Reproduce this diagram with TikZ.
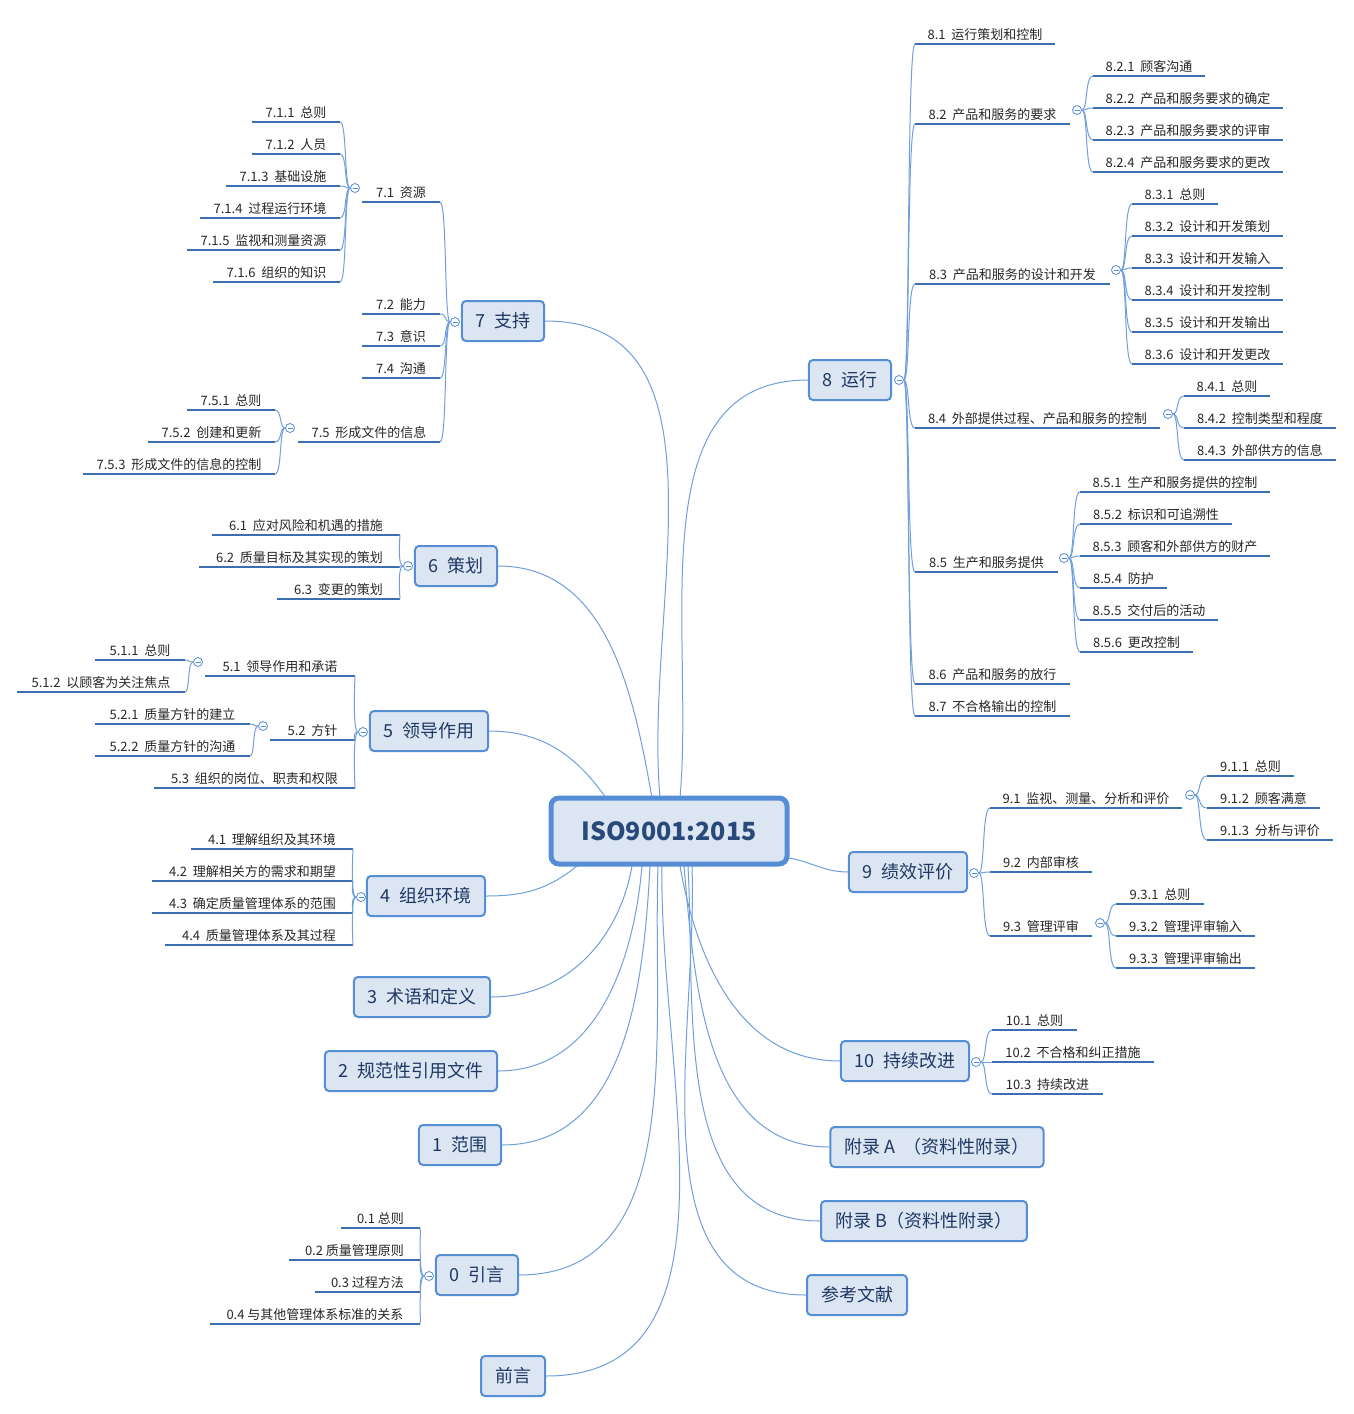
\documentclass[tikz,border=0pt]{standalone}
\usepackage{fontspec}
\setmainfont{Noto Sans CJK SC}
\usetikzlibrary{calc}
\definecolor{bfill}{HTML}{DCE6F2}
\definecolor{bdraw}{HTML}{558ED5}
\definecolor{cline}{HTML}{6F9FDC}
\definecolor{uline}{HTML}{3C6EB4}
\definecolor{btext}{HTML}{1F3864}
\tikzset{
 box/.style={draw=bdraw,fill=bfill,line width=1pt,rounded corners=2pt,minimum height=20pt,inner xsep=7pt,font=\fontsize{9}{10}\selectfont,text=btext},
 centerbox/.style={draw=bdraw,fill=bfill,line width=2.5pt,rounded corners=4pt,minimum width=118pt,minimum height=33pt,font=\fontsize{12.5}{13}\selectfont\bfseries,text=btext!80!bdraw},
 leaf/.style={anchor=south,inner sep=1.5pt,font=\fontsize{6.5}{7}\selectfont,text=black!85},
 uline/.style={draw=uline,line width=1pt},
 conn/.style={draw=cline,line width=0.5pt},
 fold/.style={circle,draw=bdraw,fill=white,line width=0.4pt,minimum size=4.5pt,inner sep=0pt,
   path picture={\draw[bdraw,line width=0.4pt] ([xshift=1pt]path picture bounding box.west) -- ([xshift=-1pt]path picture bounding box.east);}},
}
\newcommand\lf[5]{%
 \coordinate (#1l) at (#2,#4); \coordinate (#1r) at (#3,#4);
 \draw[uline] (#1l) -- (#1r);
 \node[leaf] (#1) at ({(#2+#3)/2},#4) {#5};}
\newcommand\lc[2]{\draw[conn] (#1) .. controls ($(#1)+(-6,0)$) and ($(#1|-#2)+(-3,0)$) .. (#2);}
\newcommand\rc[2]{\draw[conn] (#1) .. controls ($(#1)+(6,0)$) and ($(#1|-#2)+(3,0)$) .. (#2);}
\begin{document}
\begin{tikzpicture}[x=0.5pt,y=-0.5pt]
\useasboundingbox (0,0) rectangle (1354,1414);
% center
\coordinate (t7) at (660,798); \coordinate (t8) at (680,798);
\coordinate (t6) at (652,798); \coordinate (t5) at (606,798);
\coordinate (t9) at (789,858);
\coordinate (bt4) at (578,865); \coordinate (bt3) at (632,866);
\coordinate (bt2) at (642,866); \coordinate (bt1) at (650,866);
\coordinate (bt0) at (658,866); \coordinate (btq) at (662,866);
\coordinate (bt10) at (680,866); \coordinate (btA) at (684,866);
\coordinate (btB) at (688,866); \coordinate (btR) at (692,866);
% main boxes
\node[box] (b7) at (503,321) {7~~支持};
\node[box] (b8) at (850,380) {8~~运行};
\node[box] (b6) at (456,566) {6~~策划};
\node[box] (b5) at (429,731) {5~~领导作用};
\node[box] (b4) at (426,896) {4~~组织环境};
\node[box] (b3) at (422,997) {3~~术语和定义};
\node[box] (b2) at (411,1071) {2~~规范性引用文件};
\node[box] (b1) at (460,1145) {1~~范围};
\node[box] (b0) at (477,1275) {0~~引言};
\node[box] (bq) at (513,1376) {前言};
\node[box] (b9) at (908,872) {9~~绩效评价};
\node[box] (b10) at (905,1061) {10~~持续改进};
\node[box] (bA) at (937,1147) {附录 A~~（资料性附录）};
\node[box] (bB) at (924,1221) {附录 B（资料性附录）};
\node[box] (bR) at (857,1295) {参考文献};
% center connectors
\draw[conn] (b7.east) to[out=0,in=95] (t7);
\draw[conn] (b8.west) to[out=180,in=85] (t8);
\draw[conn] (b6.east) to[out=0,in=100] (t6);
\draw[conn] (b5.east) to[out=0,in=125] (t5);
\draw[conn] (t9) to[out=-10,in=180] (b9.west);
\draw[conn] (bt4) to[out=-140,in=0] (b4.east);
\draw[conn] (bt3) to[out=-100,in=0] (b3.east);
\draw[conn] (bt2) to[out=-95,in=0] (b2.east);
\draw[conn] (bt1) to[out=-93,in=0] (b1.east);
\draw[conn] (bt0) to[out=-92,in=0] (b0.east);
\draw[conn] (btq) to[out=-91,in=0] (bq.east);
\draw[conn] (bt10) to[out=-80,in=180] (b10.west);
\draw[conn] (btA) to[out=-85,in=180] (bA.west);
\draw[conn] (btB) to[out=-87,in=180] (bB.west);
\draw[conn] (btR) to[out=-88,in=180] (bR.west);
\node[centerbox] (ctr) at (669,831) {ISO9001:2015};
% ---- group 7
\node[fold] (f7) at (455,322) {};
\lf{n71}{362}{440}{202}{7.1~~资源}
\lf{n72}{362}{440}{314}{7.2~~能力}
\lf{n73}{362}{440}{346}{7.3~~意识}
\lf{n74}{362}{440}{378}{7.4~~沟通}
\lf{n75}{298}{440}{442}{7.5~~形成文件的信息}
\foreach \c in {n71r,n72r,n73r,n74r,n75r}{\lc{f7.west}{\c}}
\node[fold] (f71) at (355,188) {};
\lf{n711}{252}{340}{122}{7.1.1~~总则}
\lf{n712}{252}{340}{154}{7.1.2~~人员}
\lf{n713}{226}{340}{186}{7.1.3~~基础设施}
\lf{n714}{200}{340}{218}{7.1.4~~过程运行环境}
\lf{n715}{187}{340}{250}{7.1.5~~监视和测量资源}
\lf{n716}{213}{340}{282}{7.1.6~~组织的知识}
\foreach \c in {n711r,n712r,n713r,n714r,n715r,n716r}{\lc{f71.west}{\c}}
\node[fold] (f75) at (290,428) {};
\lf{n751}{187}{275}{410}{7.5.1~~总则}
\lf{n752}{148}{275}{442}{7.5.2~~创建和更新}
\lf{n753}{83}{275}{474}{7.5.3~~形成文件的信息的控制}
\foreach \c in {n751r,n752r,n753r}{\lc{f75.west}{\c}}
% ---- group 6
\node[fold] (f6) at (408,566) {};
\lf{n61}{212}{400}{535}{6.1~~应对风险和机遇的措施}
\lf{n62}{199}{400}{567}{6.2~~质量目标及其实现的策划}
\lf{n63}{277}{400}{599}{6.3~~变更的策划}
\foreach \c in {n61r,n62r,n63r}{\lc{f6.west}{\c}}
% ---- group 5
\node[fold] (f5) at (363,732) {};
\lf{n51}{205}{355}{676}{5.1~~领导作用和承诺}
\lf{n52}{270}{355}{740}{5.2~~方针}
\lf{n53}{154}{355}{788}{5.3~~组织的岗位、职责和权限}
\foreach \c in {n51r,n52r,n53r}{\lc{f5.west}{\c}}
\node[fold] (f51) at (198,662) {};
\lf{n511}{95}{185}{660}{5.1.1~~总则}
\lf{n512}{17}{185}{692}{5.1.2~~以顾客为关注焦点}
\foreach \c in {n511r,n512r}{\lc{f51.west}{\c}}
\node[fold] (f52) at (263,726) {};
\lf{n521}{95}{250}{724}{5.2.1~~质量方针的建立}
\lf{n522}{95}{250}{756}{5.2.2~~质量方针的沟通}
\foreach \c in {n521r,n522r}{\lc{f52.west}{\c}}
% ---- group 4
\node[fold] (f4) at (361,897) {};
\lf{n41}{191}{353}{849}{4.1~~理解组织及其环境}
\lf{n42}{152}{353}{881}{4.2~~理解相关方的需求和期望}
\lf{n43}{152}{353}{913}{4.3~~确定质量管理体系的范围}
\lf{n44}{165}{353}{945}{4.4~~质量管理体系及其过程}
\foreach \c in {n41r,n42r,n43r,n44r}{\lc{f4.west}{\c}}
% ---- group 0
\node[fold] (f0) at (429,1276) {};
\lf{n01}{341}{420}{1228}{0.1 总则}
\lf{n02}{289}{420}{1260}{0.2 质量管理原则}
\lf{n03}{315}{420}{1292}{0.3 过程方法}
\lf{n04}{210}{420}{1324}{0.4 与其他管理体系标准的关系}
\foreach \c in {n01r,n02r,n03r,n04r}{\lc{f0.west}{\c}}
% ---- group 8
\node[fold] (f8) at (899,380) {};
\lf{n81}{915}{1055}{44}{8.1~~运行策划和控制}
\lf{n82}{915}{1070}{124}{8.2~~产品和服务的要求}
\lf{n83}{915}{1110}{284}{8.3~~产品和服务的设计和开发}
\lf{n84}{915}{1160}{428}{8.4~~外部提供过程、产品和服务的控制}
\lf{n85}{915}{1058}{572}{8.5~~生产和服务提供}
\lf{n86}{915}{1070}{684}{8.6~~产品和服务的放行}
\lf{n87}{915}{1070}{716}{8.7~~不合格输出的控制}
\foreach \c in {n81l,n82l,n83l,n84l,n85l,n86l,n87l}{\rc{f8.east}{\c}}
\node[fold] (f82) at (1077,110) {};
\lf{n821}{1093}{1205}{76}{8.2.1~~顾客沟通}
\lf{n822}{1093}{1283}{108}{8.2.2~~产品和服务要求的确定}
\lf{n823}{1093}{1283}{140}{8.2.3~~产品和服务要求的评审}
\lf{n824}{1093}{1283}{172}{8.2.4~~产品和服务要求的更改}
\foreach \c in {n821l,n822l,n823l,n824l}{\rc{f82.east}{\c}}
\node[fold] (f83) at (1116,270) {};
\lf{n831}{1132}{1218}{204}{8.3.1~~总则}
\lf{n832}{1132}{1283}{236}{8.3.2~~设计和开发策划}
\lf{n833}{1132}{1283}{268}{8.3.3~~设计和开发输入}
\lf{n834}{1132}{1283}{300}{8.3.4~~设计和开发控制}
\lf{n835}{1132}{1283}{332}{8.3.5~~设计和开发输出}
\lf{n836}{1132}{1283}{364}{8.3.6~~设计和开发更改}
\foreach \c in {n831l,n832l,n833l,n834l,n835l,n836l}{\rc{f83.east}{\c}}
\node[fold] (f84) at (1168,414) {};
\lf{n841}{1184}{1270}{396}{8.4.1~~总则}
\lf{n842}{1184}{1336}{428}{8.4.2~~控制类型和程度}
\lf{n843}{1184}{1336}{460}{8.4.3~~外部供方的信息}
\foreach \c in {n841l,n842l,n843l}{\rc{f84.east}{\c}}
\node[fold] (f85) at (1064,558) {};
\lf{n851}{1080}{1270}{492}{8.5.1~~生产和服务提供的控制}
\lf{n852}{1080}{1232}{524}{8.5.2~~标识和可追溯性}
\lf{n853}{1080}{1270}{556}{8.5.3~~顾客和外部供方的财产}
\lf{n854}{1080}{1167}{588}{8.5.4~~防护}
\lf{n855}{1080}{1218}{620}{8.5.5~~交付后的活动}
\lf{n856}{1080}{1193}{652}{8.5.6~~更改控制}
\foreach \c in {n851l,n852l,n853l,n854l,n855l,n856l}{\rc{f85.east}{\c}}
% ---- group 9
\node[fold] (f9) at (974,873) {};
\lf{n91}{990}{1182}{808}{9.1~~监视、测量、分析和评价}
\lf{n92}{990}{1092}{872}{9.2~~内部审核}
\lf{n93}{990}{1092}{936}{9.3~~管理评审}
\foreach \c in {n91l,n92l,n93l}{\rc{f9.east}{\c}}
\node[fold] (f91) at (1190,795) {};
\lf{n911}{1207}{1294}{776}{9.1.1~~总则}
\lf{n912}{1207}{1320}{808}{9.1.2~~顾客满意}
\lf{n913}{1207}{1333}{840}{9.1.3~~分析与评价}
\foreach \c in {n911l,n912l,n913l}{\rc{f91.east}{\c}}
\node[fold] (f93) at (1100,923) {};
\lf{n931}{1116}{1204}{904}{9.3.1~~总则}
\lf{n932}{1116}{1255}{936}{9.3.2~~管理评审输入}
\lf{n933}{1116}{1255}{968}{9.3.3~~管理评审输出}
\foreach \c in {n931l,n932l,n933l}{\rc{f93.east}{\c}}
% ---- group 10
\node[fold] (f10) at (976,1062) {};
\lf{n101}{992}{1077}{1030}{10.1~~总则}
\lf{n102}{992}{1154}{1062}{10.2~~不合格和纠正措施}
\lf{n103}{992}{1103}{1094}{10.3~~持续改进}
\foreach \c in {n101l,n102l,n103l}{\rc{f10.east}{\c}}
\end{tikzpicture}
\end{document}
